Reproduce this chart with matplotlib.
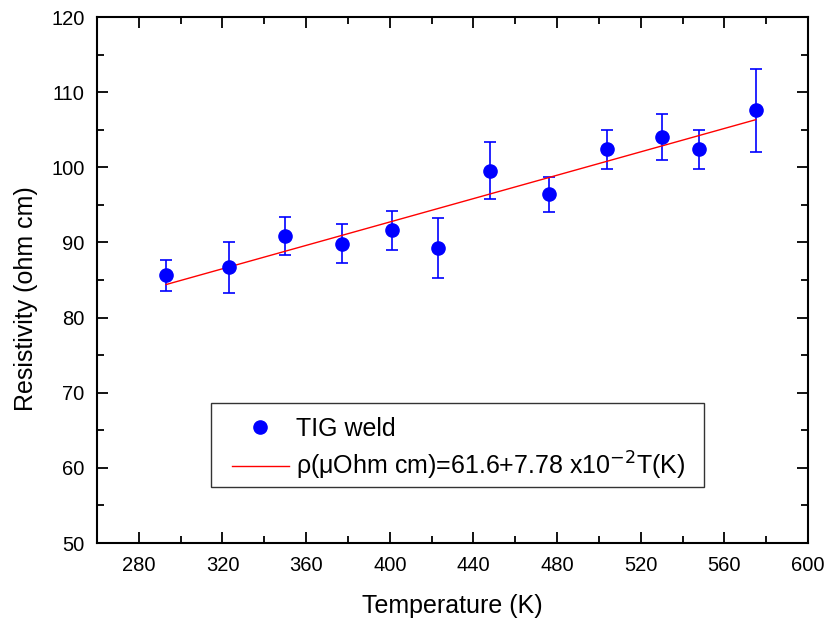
import numpy as np
import matplotlib.pyplot as plt
from matplotlib.patches import Rectangle
from matplotlib.ticker import MultipleLocator

plt.rcParams['font.family'] = ['Liberation Sans', 'DejaVu Sans']
plt.rcParams['mathtext.fontset'] = 'custom'
plt.rcParams['mathtext.rm'] = 'Liberation Sans'

# data
temp = [293, 323, 350, 377, 401, 423, 448, 476, 504, 530, 548, 575]
rho = [85.6, 86.7, 90.8, 89.8, 91.6, 89.3, 99.5, 96.4, 102.4, 104.0, 102.5, 107.6]
err_hi = [87.6, 90.0, 93.4, 92.4, 94.2, 93.3, 103.3, 98.7, 105.0, 107.1, 105.0, 113.1]
err_lo = [83.6, 83.3, 88.3, 87.2, 89.0, 85.3, 95.8, 94.0, 99.8, 101.0, 99.8, 102.0]

# linear fit from the legend
fit_a = 61.6
fit_b = 7.78e-2

rho = np.array(rho)
yerr = [rho - np.array(err_lo), np.array(err_hi) - rho]

fig = plt.figure(figsize=(8.3, 6.23), dpi=100)
ax = fig.add_axes([0.1169, 0.1284, 0.8566, 0.8443])

ax.errorbar(temp, rho, yerr=yerr, fmt='none', ecolor='#0000ff', elinewidth=1.2,
            capsize=4.5, capthick=1.2, zorder=2)
ax.plot(temp, rho, 'o', color='#0000ff', markersize=9.5, label='TIG weld', zorder=3)
tfit = np.array([temp[0], temp[-1]])
ax.plot(tfit, fit_a + fit_b * tfit, color='#ff0000', lw=1,
        label=r'ρ(μOhm cm)=61.6+7.78 x10$^{\mathsf{-2}}$T(K)', zorder=2.5)

ax.set_xlim(260, 600)
ax.set_ylim(50, 120)
ax.set_xticks([280, 320, 360, 400, 440, 480, 520, 560, 600])
ax.xaxis.set_minor_locator(MultipleLocator(20))
ax.yaxis.set_major_locator(MultipleLocator(10))
ax.yaxis.set_minor_locator(MultipleLocator(5))
ax.tick_params(which='both', direction='in', top=True, right=True, width=1.3,
               labelsize=14.5, pad=9)
ax.tick_params(which='major', length=8)
ax.tick_params(which='minor', length=5)
for s in ax.spines.values():
    s.set_linewidth(1.5)

ax.set_xlabel('Temperature (K)', fontsize=18)
ax.set_ylabel('Resistivity (ohm cm)', fontsize=18)
ax.xaxis.set_label_coords(0.5, -0.097)
ax.yaxis.set_label_coords(-0.083, 0.465)

# legend frame drawn separately so the padding can match
ax.add_patch(Rectangle((0.160, 0.107), 0.694, 0.160, transform=ax.transAxes,
                       fill=True, facecolor='white', edgecolor='#333333', lw=1, zorder=4))
leg = ax.legend(loc='upper left', bbox_to_anchor=(0.1894, 0.240), fontsize=18,
                frameon=False, handlelength=2.3, handletextpad=0.28,
                borderpad=0, borderaxespad=0, labelspacing=0.37)
leg.set_zorder(5)

fig.savefig('out.png', dpi=100)
